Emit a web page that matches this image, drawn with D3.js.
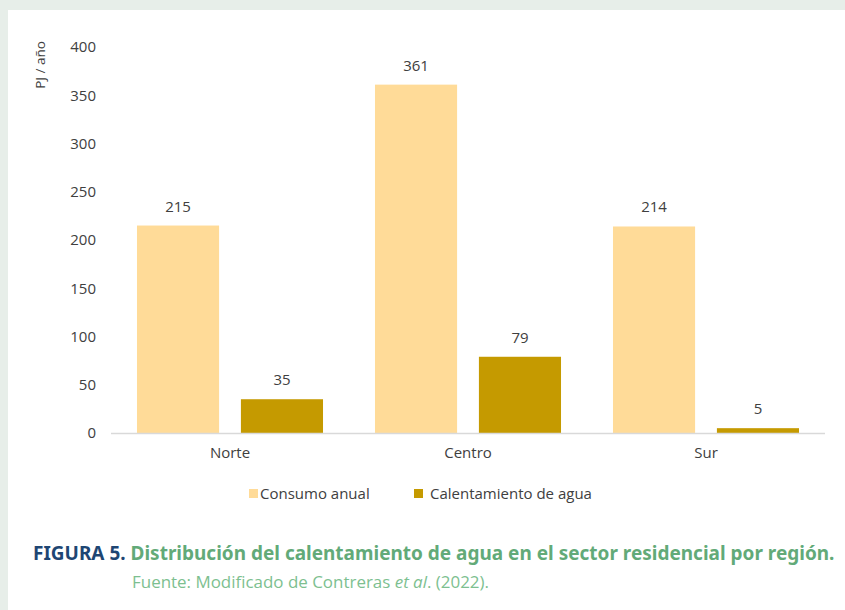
<!DOCTYPE html>
<html>
<head>
<meta charset="utf-8">
<script src="https://cdn.jsdelivr.net/npm/d3@7"></script>
<style>
  body { margin: 0; background: #e7eee9; }
  svg { display: block; }
</style>
</head>
<body>
<script>
var width = 845;
var height = 610;

// data
var regions = ["Norte", "Centro", "Sur"];
var series = ["Consumo anual", "Calentamiento de agua"];
var consumo = [215, 361, 214];
var calentamiento = [35, 79, 5];
var yTicks = [0, 50, 100, 150, 200, 250, 300, 350, 400];
var colors = ["#ffdb98", "#c59a00"];

var rows = regions.map(function(r, i) {
    return { region: r, values: [consumo[i], calentamiento[i]] };
});

var svg = d3.select("body").append("svg")
    .attr("width", width)
    .attr("height", height);

// white panel
svg.append("rect")
    .attr("x", 8).attr("y", 10)
    .attr("width", width - 8).attr("height", height - 10)
    .attr("fill", "#ffffff");

var font = "'Open Sans', 'Noto Sans', sans-serif";

var x0 = d3.scaleBand()
    .domain(regions)
    .range([111, 825]);

var x1 = d3.scaleBand()
    .domain([0, 1])
    .range([0, x0.bandwidth()])
    .paddingInner(0.21)
    .paddingOuter(0.25);

var y = d3.scaleLinear()
    .domain([0, 400])
    .range([433, 47]);

// y axis labels
var yAxis = svg.append("g")
    .attr("transform", "translate(96,0)")
    .call(d3.axisLeft(y).tickValues(yTicks).tickSize(0).tickPadding(0));
yAxis.select(".domain").remove();
yAxis.selectAll("text")
    .attr("font-family", font)
    .attr("font-size", 15)
    .attr("fill", "#404040");

// y title
svg.append("text")
    .attr("transform", "translate(45,65) rotate(-90)")
    .attr("text-anchor", "middle")
    .attr("font-family", font)
    .attr("font-size", 13.5)
    .attr("fill", "#404040")
    .text("PJ / año");

// bars
var groups = svg.selectAll(".group")
    .data(rows)
    .enter().append("g")
    .attr("class", "group")
    .attr("transform", function(d) { return "translate(" + x0(d.region) + ",0)"; });

groups.selectAll("rect")
    .data(function(d) { return d.values; })
    .enter().append("rect")
    .attr("x", function(d, i) { return x1(i); })
    .attr("y", function(d) { return y(d); })
    .attr("width", x1.bandwidth())
    .attr("height", function(d) { return y(0) - y(d); })
    .attr("fill", function(d, i) { return colors[i]; });

groups.selectAll(".val")
    .data(function(d) { return d.values; })
    .enter().append("text")
    .attr("class", "val")
    .attr("x", function(d, i) { return x1(i) + x1.bandwidth() / 2; })
    .attr("y", function(d) { return y(d) - 14; })
    .attr("text-anchor", "middle")
    .attr("font-family", font)
    .attr("font-size", 15)
    .attr("fill", "#404040")
    .text(function(d) { return d; });

// baseline
svg.append("line")
    .attr("x1", 111).attr("x2", 825)
    .attr("y1", y(0) + 0.5).attr("y2", y(0) + 0.5)
    .attr("stroke", "#d9d9d9")
    .attr("stroke-width", 1.5);

// x axis labels
var xAxis = svg.append("g")
    .attr("transform", "translate(0," + y(0) + ")")
    .call(d3.axisBottom(x0).tickSize(0).tickPadding(14));
xAxis.select(".domain").remove();
xAxis.selectAll("text")
    .attr("font-family", font)
    .attr("font-size", 15)
    .attr("fill", "#404040");

// legend
var legendX = [249, 414];
var legend = svg.selectAll(".legend")
    .data(series)
    .enter().append("g")
    .attr("class", "legend")
    .attr("transform", function(d, i) { return "translate(" + legendX[i] + ",489)"; });

legend.append("rect")
    .attr("x", 0).attr("y", 0)
    .attr("width", 9).attr("height", 9)
    .attr("fill", function(d, i) { return colors[i]; });

legend.append("text")
    .attr("x", function(d, i) { return i == 0 ? 11 : 16; })
    .attr("y", 4.5)
    .attr("dy", ".35em")
    .attr("font-family", font)
    .attr("font-size", 15)
    .attr("fill", "#404040")
    .text(function(d) { return d; });

// caption, squeezed horizontally to fit the panel
var capG = svg.append("g");
var cap = capG.append("text")
    .attr("x", 0).attr("y", 0)
    .attr("font-family", "'Noto Sans', 'Open Sans', sans-serif")
    .attr("font-weight", "bold")
    .attr("font-size", 19.5);
cap.append("tspan").attr("fill", "#1e4673").text("FIGURA 5. ");
cap.append("tspan").attr("fill", "#62aa78")
    .text("Distribución del calentamiento de agua en el sector residencial por región.");
var capW = cap.node().getComputedTextLength();
capG.attr("transform", "translate(33,560) scale(" + (802 / capW) + ",1)");

var src = svg.append("text")
    .attr("x", 132).attr("y", 588)
    .attr("font-family", font)
    .attr("font-size", 16)
    .attr("fill", "#7dbf90")
    .attr("textLength", 357)
    .attr("lengthAdjust", "spacingAndGlyphs");
src.append("tspan").text("Fuente: Modificado de Contreras ");
src.append("tspan").attr("font-style", "italic").text("et al");
src.append("tspan").text(". (2022).");
</script>
</body>
</html>
